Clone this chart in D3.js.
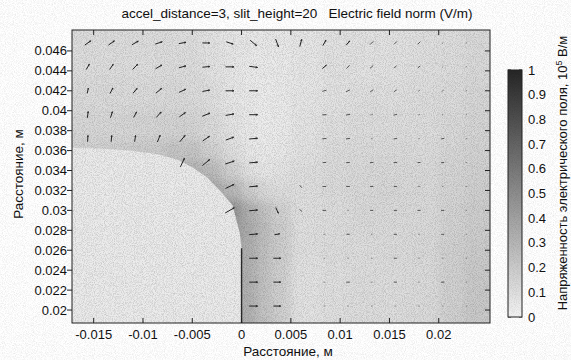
<!DOCTYPE html>
<html><head><meta charset="utf-8">
<script src="https://cdn.jsdelivr.net/npm/d3@7"></script>
<style>
body{margin:0;background:#fff}
text{font-family:"Liberation Sans",Arial,sans-serif;fill:#111;white-space:pre}
</style>
</head><body><svg id="c" width="571" height="360"></svg>
<script>
// ---------- data ----------
const titleText = "accel_distance=3, slit_height=20   Electric field norm (V/m)";
const xLabel = "Расстояние, м";
const yLabel = "Расстояние, м";
const cbLabel = "Напряженность электрического поля, 10";
const cbLabelSup = "5";
const cbLabelEnd = " В/м";

const xDomain = [-0.0172, 0.0252];
const yDomain = [0.0187, 0.0481];
const xTicks = [-0.015, -0.01, -0.005, 0, 0.005, 0.01, 0.015, 0.02];
const xTickLabels = ["-0.015", "-0.01", "-0.005", "0", "0.005", "0.01", "0.015", "0.02"];
const yTicks = [0.02, 0.022, 0.024, 0.026, 0.028, 0.03, 0.032, 0.034, 0.036, 0.038, 0.04, 0.042, 0.044, 0.046];
const yTickLabels = ["0.02", "0.022", "0.024", "0.026", "0.028", "0.03", "0.032", "0.034", "0.036", "0.038", "0.04", "0.042", "0.044", "0.046"];
const cbTicks = [0, 0.1, 0.2, 0.3, 0.4, 0.5, 0.6, 0.7, 0.8, 0.9, 1];
const cbTickLabels = ["0", "0.1", "0.2", "0.3", "0.4", "0.5", "0.6", "0.7", "0.8", "0.9", "1"];

// field-norm map (irregular grid), values in colourbar units
const fieldXEdges = [-0.0172, -0.014, -0.011, -0.008, -0.006, -0.004, -0.002, 0, 0.0015, 0.003, 0.005, 0.008, 0.011, 0.014, 0.017, 0.020, 0.0225, 0.0252];
const fieldYEdges = [0.0481, 0.046, 0.043, 0.040, 0.037, 0.035, 0.033, 0.031, 0.029, 0.027, 0.025, 0.022, 0.0187]; // top -> bottom
const fieldValues = [
  [0.10,0.10,0.10,0.10,0.09,0.08,0.06,0.05,0.05,0.05,0.06,0.08,0.08,0.08,0.09,0.10,0.12],
  [0.10,0.10,0.10,0.10,0.10,0.08,0.06,0.04,0.04,0.04,0.06,0.08,0.08,0.08,0.09,0.10,0.12],
  [0.11,0.11,0.11,0.12,0.11,0.09,0.06,0.04,0.03,0.04,0.06,0.08,0.09,0.09,0.10,0.11,0.13],
  [0.13,0.13,0.14,0.15,0.14,0.11,0.07,0.04,0.03,0.04,0.07,0.09,0.10,0.10,0.10,0.12,0.14],
  [0.16,0.17,0.19,0.22,0.22,0.16,0.09,0.05,0.04,0.05,0.08,0.10,0.11,0.11,0.11,0.13,0.15],
  [0.16,0.17,0.20,0.25,0.30,0.26,0.16,0.08,0.06,0.07,0.09,0.11,0.12,0.12,0.12,0.14,0.16],
  [0.16,0.17,0.20,0.26,0.32,0.36,0.28,0.18,0.12,0.10,0.09,0.11,0.12,0.13,0.12,0.14,0.17],
  [0.16,0.17,0.20,0.26,0.32,0.38,0.45,0.32,0.24,0.16,0.09,0.10,0.12,0.12,0.12,0.15,0.18],
  [0.16,0.17,0.20,0.26,0.32,0.38,0.42,0.34,0.26,0.18,0.09,0.10,0.11,0.11,0.12,0.15,0.18],
  [0.16,0.17,0.20,0.26,0.32,0.36,0.36,0.33,0.25,0.18,0.09,0.10,0.10,0.11,0.12,0.16,0.19],
  [0.16,0.17,0.20,0.26,0.32,0.34,0.34,0.32,0.24,0.17,0.08,0.09,0.10,0.10,0.11,0.16,0.20],
  [0.16,0.17,0.20,0.26,0.32,0.34,0.34,0.32,0.24,0.17,0.08,0.09,0.10,0.10,0.11,0.16,0.20]
];

// electrode outline (data units)
const electrodeX = [-0.0172, -0.0144, -0.0114, -0.0083, -0.0063, -0.0048, -0.0035, -0.0022, -0.0009, -0.0002, 0, 0, -0.0172];
const electrodeY = [0.0363, 0.0362, 0.0360, 0.0356, 0.0350, 0.0342, 0.0333, 0.0320, 0.0305, 0.0278, 0.0262, 0.0187, 0.0187];

// quiver grid
const arrowX = [-0.0156, -0.0132, -0.0108, -0.0084, -0.0060, -0.0036, -0.0012, 0.0012, 0.0036, 0.0060, 0.0084, 0.0108, 0.0132, 0.0156, 0.0180, 0.0204, 0.0228];
const arrowY = [0.0468, 0.0444, 0.0420, 0.0396, 0.0372, 0.0348, 0.0324, 0.0300, 0.0276, 0.0252, 0.0228, 0.0204]; // top -> bottom
const N = null;
const arrowAngle = [
  [35,35,30,18,10,0,-18,-40,-70,75,60,50,45,45,45,40,40],
  [60,55,45,30,15,5,0,-8,N,N,40,45,40,40,40,40,40],
  [78,62,50,40,25,10,0,0,N,N,15,25,35,35,35,35,30],
  [82,72,62,48,35,22,10,0,N,N,5,10,15,15,25,30,30],
  [87,85,82,68,50,35,20,5,N,N,5,8,10,10,10,10,10],
  [N,N,N,N,65,40,18,5,N,N,5,5,5,5,5,5,5],
  [N,N,N,N,N,N,25,5,N,-50,0,0,0,0,0,0,0],
  [N,N,N,N,N,N,30,5,-65,-40,0,0,0,0,0,0,0],
  [N,N,N,N,N,N,N,5,10,N,0,0,0,0,0,0,0],
  [N,N,N,N,N,N,N,0,0,N,0,0,0,0,0,0,0],
  [N,N,N,N,N,N,N,0,0,N,0,0,0,0,0,0,0],
  [N,N,N,N,N,N,N,0,0,N,0,0,0,0,0,0,0]
];
const arrowMag = [
  [0.7,0.7,0.7,0.7,0.7,0.7,0.7,0.8,0.8,0.7,0.6,0.5,0.45,0.4,0.35,0.2,0.2],
  [0.6,0.6,0.7,0.7,0.7,0.7,0.8,0.8,N,N,0.5,0.45,0.4,0.3,0.3,0.15,0.15],
  [0.5,0.6,0.6,0.7,0.7,0.7,0.8,0.8,N,N,0.4,0.4,0.35,0.3,0.25,0.25,0.15],
  [0.6,0.6,0.6,0.7,0.7,0.8,0.8,0.8,N,N,0.4,0.4,0.25,0.35,0.2,0.15,0.15],
  [0.6,0.6,0.6,0.7,0.8,0.8,0.8,0.8,N,N,0.4,0.4,0.15,0.35,0.15,0.3,0.15],
  [N,N,N,N,0.9,0.9,0.9,0.8,N,N,0.35,0.35,0.35,0.35,0.3,0.3,0.15],
  [N,N,N,N,N,N,0.9,0.8,N,0.3,0.35,0.35,0.3,0.3,0.25,0.15,0.15],
  [N,N,N,N,N,N,1.0,0.8,0.6,0.3,0.35,0.15,0.3,0.3,0.3,0.3,0.15],
  [N,N,N,N,N,N,N,0.8,0.5,N,0.15,0.3,0.15,0.3,0.15,0.3,0.15],
  [N,N,N,N,N,N,N,0.8,0.7,N,0.15,0.15,0.15,0.3,0.15,0.15,0.15],
  [N,N,N,N,N,N,N,0.8,0.7,N,0.15,0.35,0.15,0.3,0.15,0.3,0.15],
  [N,N,N,N,N,N,N,0.8,0.7,N,0.15,0.15,0.15,0.15,0.15,0.15,0.15]
];

// ---------- drawing ----------
const svg = d3.select("#c");
const M = {l:72, r:490, t:30, b:323};
const x = d3.scaleLinear().domain(xDomain).range([M.l, M.r]);
const y = d3.scaleLinear().domain(yDomain).range([M.b, M.t]);
const gray = d3.scaleLinear().domain([0,1]).range(["#f4f4f4","#262626"]).interpolate(d3.interpolateRgb);
const lenScale = d3.scaleLinear().domain([0,1]).range([0,10.5]);

const defs = svg.append("defs");
defs.append("clipPath").attr("id","plotClip").append("rect")
  .attr("x",M.l).attr("y",M.t).attr("width",M.r-M.l).attr("height",M.b-M.t);
const blur = defs.append("filter").attr("id","blur").attr("filterUnits","userSpaceOnUse")
  .attr("x",0).attr("y",0).attr("width",571).attr("height",360);
blur.append("feGaussianBlur").attr("stdDeviation",5);
const grain = defs.append("filter").attr("id","grain").attr("filterUnits","userSpaceOnUse")
  .attr("x",0).attr("y",0).attr("width",571).attr("height",360);
grain.append("feTurbulence").attr("type","fractalNoise").attr("baseFrequency",1.1).attr("numOctaves",1).attr("seed",4);
grain.append("feColorMatrix").attr("type","matrix")
  .attr("values","0 0 0 0 0  0 0 0 0 0  0 0 0 0 0  0.7 0 0 0 -0.28");

const plot = svg.append("g").attr("clip-path","url(#plotClip)");
const heat = plot.append("g").attr("filter","url(#blur)");
const pad = 20;
fieldValues.forEach((row, ri) => {
  row.forEach((v, ci) => {
    let x0 = x(fieldXEdges[ci]), x1 = x(fieldXEdges[ci+1]);
    let y0 = y(fieldYEdges[ri]), y1 = y(fieldYEdges[ri+1]);
    if (ci === 0) x0 -= pad;
    if (ci === row.length-1) x1 += pad;
    if (ri === 0) y0 -= pad;
    if (ri === fieldValues.length-1) y1 += pad;
    heat.append("rect").attr("x",x0).attr("y",y0).attr("width",x1-x0+0.5).attr("height",y1-y0+0.5)
      .attr("fill", gray(v));
  });
});

// electrode
const ePts = electrodeX.map((d,i)=>[x(d), y(electrodeY[i])]);
ePts[0][0] -= 2; ePts[ePts.length-1][0] -= 2; ePts[ePts.length-1][1] += 2; ePts[ePts.length-2][1] += 2;
plot.append("path").attr("d", d3.line().curve(d3.curveLinear)(ePts) + "Z")
  .attr("fill","#ececec").attr("stroke","none");
plot.append("line").attr("x1",x(0)).attr("x2",x(0)).attr("y1",y(0.0262)).attr("y2",y(yDomain[0]))
  .attr("stroke","#2a2a2a").attr("stroke-width",1.4);

// grain
plot.append("rect").attr("x",M.l).attr("y",M.t).attr("width",M.r-M.l).attr("height",M.b-M.t)
  .attr("filter","url(#grain)").attr("opacity",0.3);

// arrows
const ag = plot.append("g").attr("fill","none").attr("stroke-linecap","butt");
arrowAngle.forEach((row, ri) => {
  row.forEach((a, ci) => {
    const m = arrowMag[ri][ci];
    if (a === null || m === null) return;
    const cx = x(arrowX[ci]), cy = y(arrowY[ri]);
    const L = lenScale(m);
    const t = a*Math.PI/180;
    const dx = Math.cos(t)*L/2, dy = -Math.sin(t)*L/2;
    const col = m >= 0.5 ? "#222" : (m >= 0.3 ? "#555" : "#888");
    ag.append("line").attr("x1",cx-dx).attr("y1",cy-dy).attr("x2",cx+dx).attr("y2",cy+dy)
      .attr("stroke",col).attr("stroke-width",1);
    if (L > 5) {
      const h = Math.min(2, L*0.25);
      [0.4,-0.4].forEach(o => {
        const tt = t + Math.PI - o;
        ag.append("line").attr("x1",cx+dx).attr("y1",cy+dy)
          .attr("x2",cx+dx+Math.cos(tt)*h).attr("y2",cy+dy-Math.sin(tt)*h)
          .attr("stroke",col).attr("stroke-width",0.7);
      });
    }
  });
});

// frame and ticks
svg.append("rect").attr("x",M.l).attr("y",M.t).attr("width",M.r-M.l).attr("height",M.b-M.t)
  .attr("fill","none").attr("stroke","#222").attr("stroke-width",1);
const tk = svg.append("g").attr("stroke","#222").attr("stroke-width",1);
xTicks.forEach(v => {
  tk.append("line").attr("x1",x(v)).attr("x2",x(v)).attr("y1",M.b).attr("y2",M.b-5);
  tk.append("line").attr("x1",x(v)).attr("x2",x(v)).attr("y1",M.t).attr("y2",M.t+5);
});
yTicks.forEach(v => {
  tk.append("line").attr("x1",M.l).attr("x2",M.l-5).attr("y1",y(v)).attr("y2",y(v));
  tk.append("line").attr("x1",M.r).attr("x2",M.r-5).attr("y1",y(v)).attr("y2",y(v));
});
svg.append("g").selectAll("text").data(xTicks).join("text")
  .attr("x",d=>x(d)).attr("y",339).attr("text-anchor","middle").attr("font-size",13)
  .text((d,i)=>xTickLabels[i]);
svg.append("g").selectAll("text").data(yTicks).join("text")
  .attr("x",67).attr("y",d=>y(d)+4.5).attr("text-anchor","end").attr("font-size",13)
  .text((d,i)=>yTickLabels[i]);

// labels
svg.append("text").attr("x",297).attr("y",18).attr("text-anchor","middle").attr("font-size",13.5).text(titleText);
svg.append("text").attr("x",288).attr("y",356).attr("text-anchor","middle").attr("font-size",13.5).text(xLabel);
svg.append("text").attr("transform","translate(23,174) rotate(-90)").attr("text-anchor","middle").attr("font-size",13.5).text(yLabel);

// colour bar
const cb = {x0:508, x1:522, y0:70, y1:317};
const cy = d3.scaleLinear().domain([0,1]).range([cb.y1, cb.y0]);
const grad = defs.append("linearGradient").attr("id","cbgrad").attr("x1",0).attr("y1",1).attr("x2",0).attr("y2",0);
d3.range(0,1.0001,0.1).forEach(s => grad.append("stop").attr("offset",s).attr("stop-color",gray(s)));
svg.append("rect").attr("x",cb.x0).attr("y",cb.y0).attr("width",cb.x1-cb.x0).attr("height",cb.y1-cb.y0)
  .attr("fill","url(#cbgrad)");
svg.append("rect").attr("x",cb.x0).attr("y",cb.y0).attr("width",cb.x1-cb.x0).attr("height",cb.y1-cb.y0)
  .attr("filter","url(#grain)").attr("opacity",0.3);
svg.append("rect").attr("x",cb.x0).attr("y",cb.y0).attr("width",cb.x1-cb.x0).attr("height",cb.y1-cb.y0)
  .attr("fill","none").attr("stroke","#222");
cbTicks.forEach((v,i) => {
  tk.append("line").attr("x1",cb.x1).attr("x2",cb.x1-3).attr("y1",cy(v)).attr("y2",cy(v));
  tk.append("line").attr("x1",cb.x0).attr("x2",cb.x0+3).attr("y1",cy(v)).attr("y2",cy(v));
  svg.append("text").attr("x",528).attr("y",cy(v)+4.5).attr("font-size",13).text(cbTickLabels[i]);
});
const cbt = svg.append("text").attr("transform","translate(567,173) rotate(-90)").attr("text-anchor","middle").attr("font-size",13);
cbt.append("tspan").text(cbLabel);
cbt.append("tspan").attr("dy",-5).attr("font-size",9).text(cbLabelSup);
cbt.append("tspan").attr("dy",5).text(cbLabelEnd);
</script></body></html>
